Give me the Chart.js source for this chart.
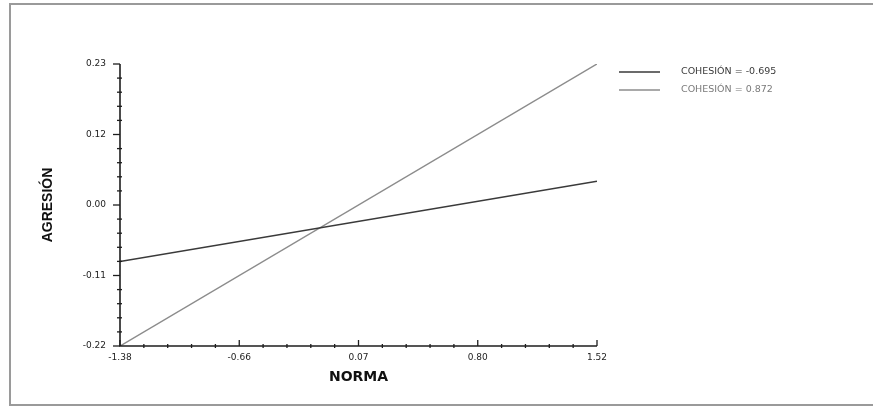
<!DOCTYPE html>
<html>
<head>
<meta charset="utf-8">
<script src="https://cdn.jsdelivr.net/npm/chart.js@4.4.1/dist/chart.umd.min.js"></script>
<style>
  html, body { margin: 0; padding: 0; background: #fff; }
  #wrap { position: relative; width: 873px; height: 408px; overflow: hidden; }
  #frame { position: absolute; left: 9px; top: 3px; width: 900px; height: 399px; border: 2px solid #9a9a9a; box-sizing: content-box; }
  canvas { position: absolute; left: 0; top: 0; }
</style>
</head>
<body>
<div id="wrap">
  <div id="frame"></div>
  <canvas id="c" width="873" height="408"></canvas>
</div>
<script>
// ---- data ----
const norma = [-1.38, 1.52];
const cohesionLowValues = [-0.085, 0.043];   // COHESIÓN = -0.695
const cohesionHighValues = [-0.22, 0.23];    // COHESIÓN = 0.872
const seriesLabels = ['COHESIÓN = -0.695', 'COHESIÓN = 0.872'];

const xTickValues = [-1.38, -0.655, 0.07, 0.795, 1.52];
const xTickLabels = ['-1.38', '-0.66', '0.07', '0.80', '1.52'];
const yTickValues = [-0.22, -0.1075, 0.005, 0.1175, 0.23];
const yTickLabels = ['-0.22', '-0.11', '0.00', '0.12', '0.23'];
const minorPerMajor = 5;

const xTitle = 'NORMA';
const yTitle = 'AGRESIÓN';

const colors = ['#3a3a3a', '#8c8c8c'];

const toPts = (xs, ys) => xs.map((x, i) => ({ x: x, y: ys[i] }));

function labelFor(values, labels) {
  return function (v) {
    for (let i = 0; i < values.length; i++) {
      if (Math.abs(values[i] - v) < 1e-9) return labels[i];
    }
    return '';
  };
}

const tickFont = { family: '"DejaVu Sans", sans-serif', size: 9 };

const axesPlugin = {
  id: 'axesDraw',
  afterDatasetsDraw(chart) {
    const ctx = chart.ctx;
    const xs = chart.scales.x, ys = chart.scales.y;
    const x0 = xs.getPixelForValue(xTickValues[0]);
    const x1 = xs.getPixelForValue(xTickValues[xTickValues.length - 1]);
    const y0 = ys.getPixelForValue(yTickValues[0]);
    const y1 = ys.getPixelForValue(yTickValues[yTickValues.length - 1]);
    ctx.save();
    ctx.strokeStyle = '#1e1e1e';
    ctx.lineWidth = 1.6;
    ctx.beginPath();
    ctx.moveTo(x0, y1); ctx.lineTo(x0, y0); ctx.lineTo(x1, y0);
    ctx.stroke();
    ctx.lineWidth = 1.3;
    // y ticks
    for (let i = 0; i < yTickValues.length; i++) {
      const p = ys.getPixelForValue(yTickValues[i]);
      ctx.beginPath(); ctx.moveTo(x0 - 7, p); ctx.lineTo(x0, p); ctx.stroke();
      if (i < yTickValues.length - 1) {
        const step = (yTickValues[i + 1] - yTickValues[i]) / minorPerMajor;
        for (let k = 1; k < minorPerMajor; k++) {
          const q = ys.getPixelForValue(yTickValues[i] + k * step);
          ctx.beginPath(); ctx.moveTo(x0 - 3, q); ctx.lineTo(x0 + 2, q); ctx.stroke();
        }
      }
    }
    // x ticks
    for (let i = 0; i < xTickValues.length; i++) {
      const p = xs.getPixelForValue(xTickValues[i]);
      ctx.beginPath(); ctx.moveTo(p, y0); ctx.lineTo(p, y0 - 6); ctx.stroke();
      if (i < xTickValues.length - 1) {
        const step = (xTickValues[i + 1] - xTickValues[i]) / minorPerMajor;
        for (let k = 1; k < minorPerMajor; k++) {
          const q = xs.getPixelForValue(xTickValues[i] + k * step);
          ctx.beginPath(); ctx.moveTo(q, y0 + 2); ctx.lineTo(q, y0 - 2); ctx.stroke();
        }
      }
    }
    // legend
    ctx.font = '9.5px "DejaVu Sans", sans-serif';
    ctx.textBaseline = 'middle';
    chart.data.datasets.forEach((ds, i) => {
      const ly = 72 + i * 18;
      ctx.strokeStyle = ds.borderColor;
      ctx.lineWidth = 1.5;
      ctx.beginPath(); ctx.moveTo(619, ly); ctx.lineTo(660, ly); ctx.stroke();
      ctx.fillStyle = i === 0 ? '#3a3a3a' : '#7a7a7a';
      ctx.fillText(ds.label, 681, ly);
    });
    ctx.restore();
  }
};

new Chart(document.getElementById('c'), {
  type: 'scatter',
  data: {
    datasets: [
      { label: seriesLabels[0], data: toPts(norma, cohesionLowValues), showLine: true,
        borderColor: colors[0], borderWidth: 1.5, pointRadius: 0, fill: false },
      { label: seriesLabels[1], data: toPts(norma, cohesionHighValues), showLine: true,
        borderColor: colors[1], borderWidth: 1.5, pointRadius: 0, fill: false }
    ]
  },
  options: {
    responsive: false,
    animation: false,
    devicePixelRatio: 1,
    layout: { padding: { left: 36, right: 276, top: 64, bottom: 22 } },
    plugins: { legend: { display: false }, tooltip: { enabled: false } },
    scales: {
      x: {
        type: 'linear', min: norma[0], max: norma[1],
        grid: { display: false, drawTicks: false },
        border: { display: false },
        afterBuildTicks(s) { s.ticks = xTickValues.map(v => ({ value: v })); },
        afterFit(s) { s.height = 40; },
        ticks: { callback: labelFor(xTickValues, xTickLabels), padding: 6, maxRotation: 0, autoSkip: false,
                 color: '#222', font: tickFont },
        title: { display: true, text: xTitle, color: '#111', padding: { top: 2, bottom: 0 },
                 font: { family: '"DejaVu Sans", sans-serif', size: 14, weight: 'bold' } }
      },
      y: {
        type: 'linear', min: yTickValues[0], max: yTickValues[yTickValues.length - 1],
        grid: { display: false, drawTicks: false },
        border: { display: false },
        afterBuildTicks(s) { s.ticks = yTickValues.map(v => ({ value: v })); },
        afterFit(s) { s.width = 84; },
        ticks: { callback: labelFor(yTickValues, yTickLabels), padding: 14, autoSkip: false,
                 color: '#222', font: tickFont },
        title: { display: true, text: yTitle, color: '#111', padding: { top: 4, bottom: 0 },
                 font: { family: '"Liberation Sans", Arial, sans-serif', size: 14, weight: 'bold' } }
      }
    }
  },
  plugins: [axesPlugin]
});
</script>
</body>
</html>
